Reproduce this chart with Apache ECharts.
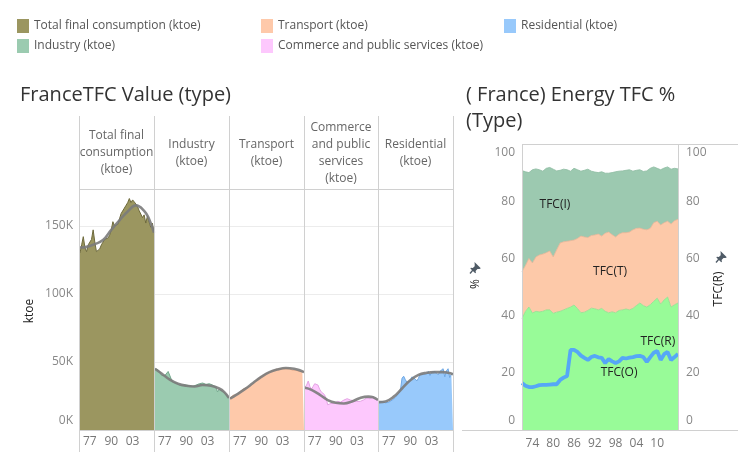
<!DOCTYPE html>
<html><head><meta charset="utf-8">
<script src="https://cdn.jsdelivr.net/npm/echarts@6/dist/echarts.min.js"></script>
<style>html,body{margin:0;padding:0;background:#fff}#c{width:749px;height:463px}</style>
</head><body><div id="c"></div>
<script>
// ---------------- DATA ----------------
const years = [1971,1972,1973,1974,1975,1976,1977,1978,1979,1980,1981,1982,1983,1984,1985,1986,1987,1988,1989,1990,1991,1992,1993,1994,1995,1996,1997,1998,1999,2000,2001,2002,2003,2004,2005,2006,2007,2008,2009,2010,2011,2012,2013,2014,2015,2016];

// left panel values (thousand ktoe, i.e. "K")
const totalVals = [130,136,142,134,131,136,137,140,147,138,131,130,133,136,138,140,140,141,143,147,153,150,149,151,155,159,160,163,165,167,170,167,169,168,166,164,161,162,156,158,152,157,158,149,152,145];
const industryVals = [45,44,44,42.5,40,40.5,40,41,43,42,37,35,34,34.5,34,33,33,33,33,33,33,32.5,32,32,32.5,33,34,34,34,34.5,34,33.5,34,34,33,33,32,31.5,28,30,30,28.5,28,26.5,25,23.5];
const transportVals = [23.5,24.5,25.5,25.5,26,27,28,29,30,30.5,31,31.5,32,33,34,35,36.5,37.5,38.5,39.5,40,41,41.5,42,42.5,43,43.5,44,44.5,44.5,45,45,45,45,45,45,45,44.5,44,44,44,43.5,43,43,43,42.5];
const commerceVals = [31.5,33,36,32,30,32,34,35,33,30,28,27,26,23,18.5,19,19.5,19,19.5,20,21,20.5,20.5,21,22,23,23,22,22,21,21.5,21,21,20.5,21,21.5,22,23,23.5,24.5,23,24,24.5,22.5,23.5,22];
const residentialVals = [20.5,20,21,20.5,20,20.5,20.5,21,22,23,24,25,27,29,38,39.5,37,35,34,36,39,38,37.5,36,38,41,40,41,40.5,41,43,40,42.5,43,43,42,40.5,43,43,45,39,43.5,45,38.5,41,41.5];

// trend lines (read at knot years)
const trendYears = [1971,1975,1980,1985,1990,1995,2000,2005,2010,2013,2016];
const totalTrend = [134,134.5,136.5,139.5,147,154,160.5,165,161,155,145];
const industryTrend = [45,41.5,37,34,32.5,32,33,32.5,30.5,28,23.5];
const transportTrend = [23,26,30,34.5,39,42.5,44.5,45.5,45,44,42.5];
const commerceTrend = [31,29.5,26,22,20,19.5,21,23.5,24.5,24,22];
const residentialTrend = [20.5,21,24.5,30.5,36.5,40.5,42,42.5,42.5,42,41];

const panelNames = ['Total final consumption (ktoe)','Industry (ktoe)','Transport (ktoe)','Commerce and public services (ktoe)','Residential (ktoe)'];
const panelHeaders = ['Total final\nconsumption\n(ktoe)','Industry\n(ktoe)','Transport\n(ktoe)','Commerce\nand public\nservices\n(ktoe)','Residential\n(ktoe)'];
const leftTicks = [1977,1990,2003];

// right panel: shares (%) by type
const shareO = [39,41.5,43,40.9,41.5,41.3,41.5,42,42,40.8,41.2,41.5,42,42.5,43,43.7,42.5,41,41.2,41.8,42.6,42.4,42,42.5,41.5,41,41.3,41,41.8,42,42.3,42,42.5,43.5,44.4,43.5,43,43.8,45,46.1,44,45.5,46.5,43,43.8,44.4];
const shareT = [16.4,16,17,17.5,19,19.9,20,20,20.6,19.7,21.8,23.9,23.8,23.5,23.2,22.7,24.5,26.8,26.3,25.5,25.4,25.8,26.5,25.3,27.3,28.2,27,26.5,26.7,27,26.7,27.2,27.5,27,26.2,26.7,27,26.7,27.5,26.9,27.7,27,26.5,29,29.4,29.3];
const shareI = [35.3,32.8,30,32.6,30.8,29.8,29,29.5,29.2,30.7,27.6,25.4,25.4,25,24.3,25.1,24,22.7,23.3,23.9,22.5,22,21.5,22.5,21,20.6,21.7,22.8,22,21.6,21.8,21.8,20.5,20.3,20.4,20.2,20.6,21,19.5,18.5,19.3,19.1,19,19.2,18.3,17.6];
const shareR = [16.4,15.5,15,15,15.3,15.7,15.8,15.8,15.9,16,16,17.5,18.3,18.9,28,28,27.3,26,25.2,24.5,25.5,25.9,25.4,25.2,23.4,24.8,24,23.4,24,25.2,25,25.3,25.5,25.8,25.9,25.5,23.8,25.5,27,27.6,24.5,26.5,27.3,24.5,25.5,26.6];
const rightTicks = [1974,1980,1986,1992,1998,2004,2010];
const labelNames = ['TFC(I)','TFC(T)','TFC(O)','TFC(R)'];
const labelYears = [1980.5,1996.4,1999.0,2010.2];
const labelVals = [78.7,55.3,20.0,30.9];

// ---------------- STYLE / LAYOUT ----------------
const FONT = 'Open Sans';
const fills = ['#9b9660','#9bcbb0','#fec9aa','#fdc8fd','#98c9fb'];
const edges = ['#6e6a3c','#72a88c','#dba486','#e3a3e3','#6fa7e3'];
const panelX = [79,154,229,304,378,453];
const vals = [totalVals,industryVals,transportVals,commerceVals,residentialVals];
const trends = [totalTrend,industryTrend,transportTrend,commerceTrend,residentialTrend];
const pairs = (xs, ys) => xs.map((x,k)=>[x, ys[k]]);

const grids = [], xAxes = [], yAxes = [], series = [];
for (let i = 0; i < 5; i++) {
  grids.push({left: panelX[i]+1, top: 189, width: panelX[i+1]-panelX[i]-1, height: 241});
  xAxes.push({type:'value', gridIndex:i, min:1971, max:2016,
    axisLine:{show:false}, axisTick:{show:false}, splitLine:{show:false},
    axisLabel:{customValues:leftTicks, formatter:v=>String(v).slice(2), color:'#777', fontSize:12, fontFamily:FONT, margin:6}});
  yAxes.push({type:'value', gridIndex:i, min:0, max:177, interval:50,
    axisLine:{show:false}, axisTick:{show:false},
    splitLine:{lineStyle:{color:'#ececec'}},
    axisLabel:{show:i===0, color:'#888', fontSize:12, fontFamily:FONT, margin:7,
      formatter:v=> v===0 ? '{z|0K}' : (v%50===0 ? v+'K' : ''),
      rich:{z:{padding:[0,0,18,0], color:'#888', fontSize:12, fontFamily:FONT}}}});
  series.push({name:panelNames[i], type:'line', xAxisIndex:i, yAxisIndex:i,
    data:pairs(years, vals[i]), symbol:'none', showSymbol:false,
    itemStyle:{color:fills[i]}, lineStyle:{color:edges[i], width:1},
    areaStyle:{color:fills[i], opacity:1}, z:2, silent:true});
  series.push({name:'trend'+i, type:'line', xAxisIndex:i, yAxisIndex:i,
    data:pairs(trendYears, trends[i]), symbol:'none', smooth:0.45,
    lineStyle:{color:'#7b7b7b', width:2.6, opacity:0.9}, z:3, silent:true});
}

// right chart: category axis for stacked areas (index 5), hidden value axis for line + labels (index 6)
grids.push({left:522, top:144, width:156, height:286});
xAxes.push({type:'category', gridIndex:5, data:years.map(String), boundaryGap:false,
  axisLine:{show:false}, axisTick:{show:false}, splitLine:{show:false},
  axisLabel:{interval:(idx,val)=>rightTicks.includes(+val), formatter:v=>String(v).slice(2), color:'#777', fontSize:12, fontFamily:FONT, margin:8}});
xAxes.push({type:'value', gridIndex:5, min:1971, max:2016, show:false});
const rLab = (pos) => ({color:'#888', fontSize:12, fontFamily:FONT, margin: pos==='left'?7:8,
  formatter:v=> v===0 ? '{z|0}' : (v===100 ? '{h|100}' : String(v)),
  rich:{z:{padding:[0,0,18,0], color:'#888', fontSize:12, fontFamily:FONT}, h:{padding:[18,0,0,0], color:'#888', fontSize:12, fontFamily:FONT}}});
yAxes.push({type:'value', gridIndex:5, min:0, max:100, interval:20, position:'left',
  axisLine:{show:false}, axisTick:{show:false}, splitLine:{lineStyle:{color:'#ececec'}}, axisLabel:rLab('left')});
yAxes.push({type:'value', gridIndex:5, min:0, max:100, interval:20, position:'right',
  axisLine:{show:false}, axisTick:{show:false}, splitLine:{show:false}, axisLabel:rLab('right')});
const rightStack = [['TFC(O)', shareO, '#98fb98', '#8ee08e'], ['TFC(T)', shareT, '#fdc9a9', '#e9b393'], ['TFC(I)', shareI, '#9cc9b0', '#8dbba1']];
rightStack.forEach(([n, arr, c, e]) => series.push({name:n, type:'line', xAxisIndex:5, yAxisIndex:5, stack:'share',
  data:arr, symbol:'none', lineStyle:{width:0.8, color:e}, areaStyle:{color:c, opacity:1}, itemStyle:{color:c}, silent:true}));
series.push({name:'TFC(R)', type:'line', xAxisIndex:6, yAxisIndex:6, data:pairs(years, shareR), symbol:'none',
  lineStyle:{color:'#56a7f6', width:3.8}, z:4, silent:true,
  markPoint:{symbol:'circle', symbolSize:0, silent:true,
    label:{show:true, position:'inside', formatter:p=>p.name, color:'#222', fontSize:12, fontFamily:FONT},
    data:labelNames.map((n,k)=>({name:n, coord:[labelYears[k], labelVals[k]]}))}});

// decorations
const LC = '#d0d0d0';
const gline = (x1,y1,x2,y2,c) => ({type:'line', silent:true, shape:{x1,y1,x2,y2}, style:{stroke:c||LC, lineWidth:1}, z:10});
const gtext = (x,y,t,o) => Object.assign({type:'text', silent:true, x, y, z:11,
  style:Object.assign({text:t, fill:'#333', font:'12px '+FONT, textAlign:'center', textVerticalAlign:'middle'}, (o&&o.style)||{})}, o&&o.rot!==undefined?{rotation:o.rot}:{});
const pinPts = [[5,0],[12,7],[10.5,7.8],[8.3,7.8],[6.2,9.9],[6.6,12],[5.8,12.6],[0.4,7.2],[1,6.4],[3.1,6.8],[5.2,4.7],[5.2,2.5]];
const pin = (x,y) => ({type:'group', x, y, silent:true, z:11, children:[
  {type:'polygon', shape:{points:pinPts.map(p=>[p[0]*0.9,p[1]*0.9])}, style:{fill:'#4f5b66'}},
  {type:'line', shape:{x1:3,y1:8,x2:0,y2:11.5}, style:{stroke:'#4f5b66', lineWidth:1.3}}]});

const graphics = [];
panelX.forEach(x => graphics.push(gline(x+0.5,116,x+0.5,452)));
graphics.push(gline(79,189.5,453,189.5));
graphics.push(gline(79,430.5,453,430.5));
panelHeaders.forEach((h,i) => graphics.push(gtext((panelX[i]+panelX[i+1])/2, 153, h, {style:{fill:'#666', lineHeight:17}})));
graphics.push(gtext(20,95,'FranceTFC Value (type)',{style:{font:'20px '+FONT, textAlign:'left', fill:'#333'}}));
graphics.push(gtext(466,95,'( France) Energy TFC %',{style:{font:'20px '+FONT, textAlign:'left', fill:'#333'}}));
graphics.push(gtext(466,121,'(Type)',{style:{font:'20px '+FONT, textAlign:'left', fill:'#333'}}));
graphics.push(gtext(30,311,'ktoe',{rot:Math.PI/2, style:{fill:'#222'}}));
graphics.push(gline(522.5,144,522.5,430));
graphics.push(gline(678.5,144,678.5,430));
graphics.push(gline(522,144.5,738,144.5));
graphics.push(gline(462,430.5,738,430.5));
graphics.push(gtext(476,284,'%',{rot:Math.PI/2, style:{fill:'#222'}}));
graphics.push(gtext(719,289,'TFC(R)',{rot:Math.PI/2, style:{fill:'#222'}}));
graphics.push(pin(470,262));
graphics.push(pin(716,251));

const legendBase = {orient:'vertical', itemGap:6, itemWidth:12, itemHeight:14, icon:'rect',
  textStyle:{color:'#555', fontSize:12, fontFamily:FONT}, selectedMode:false, itemStyle:{borderWidth:0}};

const chart = echarts.init(document.getElementById('c'));
chart.setOption({
  animation:false,
  textStyle:{fontFamily:FONT},
  legend:[
    Object.assign({left:12, top:14, data:[panelNames[0], panelNames[1]]}, legendBase),
    Object.assign({left:256, top:14, data:[panelNames[2], panelNames[3]]}, legendBase),
    Object.assign({left:499, top:14, data:[panelNames[4]]}, legendBase)
  ],
  grid:grids, xAxis:xAxes, yAxis:yAxes, series:series, graphic:graphics
});
</script></body></html>
